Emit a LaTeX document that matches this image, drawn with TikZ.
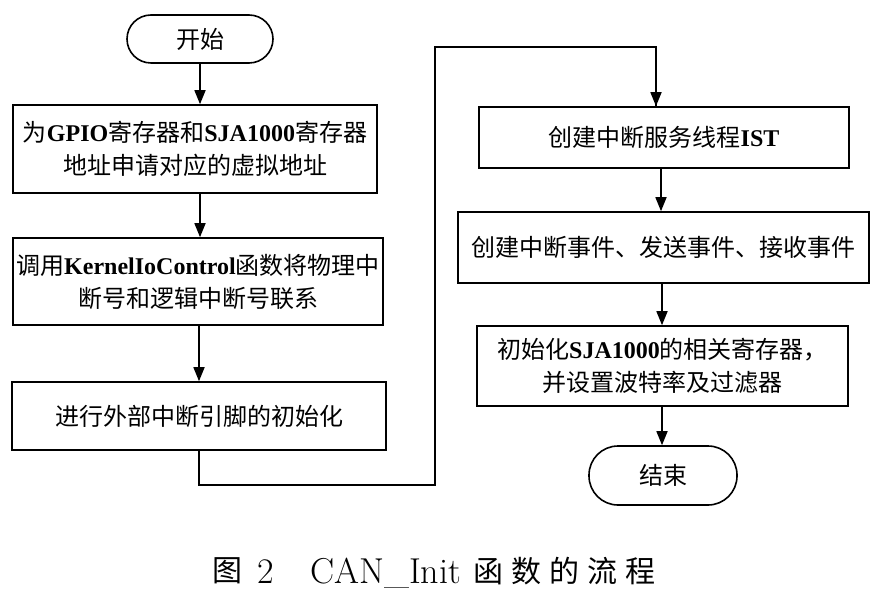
\documentclass[tikz,border=0pt]{standalone}
\usepackage{fontspec}
\newfontfamily\cjk{Noto Sans CJK SC}
\newfontfamily\tnr{Liberation Serif}
\newcommand\en[1]{{\tnr\bfseries #1}}
\usetikzlibrary{arrows.meta}
\tikzset{
  box/.style={draw, line width=1.6pt, rectangle, align=center, inner sep=0pt,
    font=\cjk\fontsize{24}{33}\selectfont},
  term/.style={draw, line width=1.6pt, rectangle, align=center, inner sep=0pt,
    font=\cjk\fontsize{24}{33}\selectfont},
  arr/.style={line width=1.6pt, -{Triangle[length=14pt,width=11pt]}},
  captext/.style={inner sep=0pt}
}
\begin{document}
\begin{tikzpicture}[x=1pt,y=-1pt]
\useasboundingbox (0,0) rectangle (882,601);
% left column
\node[term, minimum width=146pt, minimum height=48pt, rounded corners=24pt] (start) at (200,39) {开始};
\node[box, minimum width=364pt, minimum height=88pt] (b1) at (195,149)
  {为\en{GPIO}寄存器和\en{SJA1000}寄存器\\地址申请对应的虚拟地址};
\node[box, minimum width=370pt, minimum height=87pt] (b2) at (198,281.5)
  {调用\en{KernelIoControl}函数将物理中\\断号和逻辑中断号联系};
\node[box, minimum width=374pt, minimum height=68pt] (b3) at (199,416)
  {进行外部中断引脚的初始化};
% right column
\node[box, minimum width=370pt, minimum height=61pt] (b4) at (664,137.5)
  {创建中断服务线程\en{IST}};
\node[box, minimum width=411pt, minimum height=71pt] (b5) at (663.5,247.5)
  {创建中断事件、发送事件、接收事件};
\node[box, minimum width=371pt, minimum height=80pt] (b6) at (662.5,366)
  {初始化\en{SJA1000}的相关寄存器，\\并设置波特率及过滤器};
\node[term, minimum width=148pt, minimum height=59pt, rounded corners=29pt] (end) at (663,475.5) {结束};
% connectors
\draw[arr] (start) -- (start |- b1.north);
\draw[arr] (b1.south -| start) -- (b2.north -| start);
\draw[arr] (b2.south -| b3) -- (b3.north);
\coordinate (r1) at (435,485);
\coordinate (r2) at (435,47);
\coordinate (t4) at (656,107);
\draw[line width=1.6pt] (b3.south) |- (r1) -- (r2) -| (t4);
\draw[arr] (r2 -| t4) -- (b4.north -| t4);
\draw[arr] (b4.south -| 661,0) -- (b5.north -| 661,0);
\draw[arr] (b5.south -| 662,0) -- (b6.north -| 662,0);
\draw[arr] (b6.south -| 662,0) -- (end.north -| 662,0);
% caption
\node[captext, font=\cjk\fontsize{30}{30}\selectfont] (cfig) at (227.5,571) {图};
\node[captext, font=\fontsize{36}{36}\selectfont, anchor=base] (cnum) at (266,583) {2};
\node[captext, font=\fontsize{36}{36}\selectfont, anchor=base west] (cname) at (310,583) {CAN\_Init};
\node[captext, font=\cjk\fontsize{30}{30}\selectfont, anchor=west] (ctitle) at (473,571)
  {函\hspace{8pt}数\hspace{8pt}的\hspace{8pt}流\hspace{8pt}程};
\end{tikzpicture}
\end{document}
